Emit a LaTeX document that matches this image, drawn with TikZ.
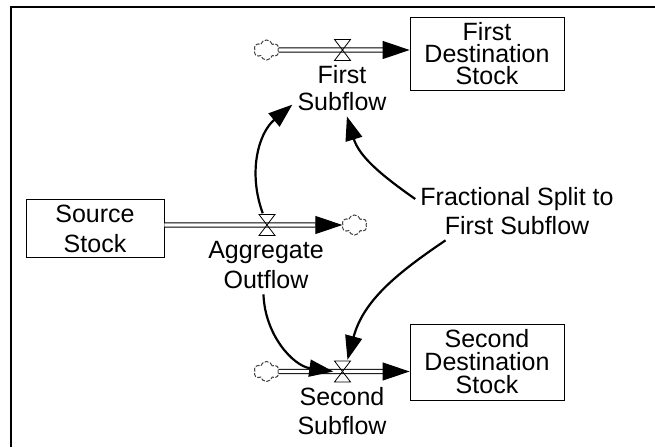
\documentclass[tikz,border=0pt]{standalone}
\usepackage{fontspec}
\setmainfont{Liberation Sans}
\usepackage{tikz}
\usetikzlibrary{positioning}
\usetikzlibrary{arrows.meta}
\usetikzlibrary{shapes.symbols}
\tikzset{
  stock/.style={draw,line width=0.8pt,minimum width=#1,inner sep=0pt,align=center},
  lbl/.style={font=\fontsize{25}{#1}\selectfont,align=center,inner sep=5pt},
  pipe/.style={double,double distance=3.2pt,line width=1pt,-{Triangle[length=27pt,width=18pt]}},
  infl/.style={line width=2.2pt,-{Triangle[length=24pt,width=17pt]}},
  sky/.style={cloud,cloud puffs=6,cloud puff arc=150,draw=black!75,dash pattern=on 4pt off 1.5pt,line width=1pt,aspect=1.25,
    minimum width=25pt,minimum height=20pt,inner sep=0pt},
  valve/.style={minimum width=18pt,minimum height=23pt,inner sep=0pt,path picture={
    \draw[line width=0.8pt] ([shift={(1pt,-1pt)}]path picture bounding box.north west)
      -- ([shift={(-1pt,1pt)}]path picture bounding box.south east)
      -- ([shift={(1pt,1pt)}]path picture bounding box.south west)
      -- ([shift={(-1pt,-1pt)}]path picture bounding box.north east) -- cycle;}}
}
\begin{document}
\begin{tikzpicture}[x=1pt,y=1pt]
    \useasboundingbox (0,0) rectangle (655,447);
    \coordinate (frameL) at (11,0);
    \coordinate (frameC) at (11,439.5);
    \coordinate (frameR) at (655,439.5);
    \draw [line width=2pt] (frameL) -- (frameC) -- (frameR);

    \node[stock=154pt,minimum height=73pt,font=\fontsize{25}{22}\selectfont] (firstStock) at (487,393.5) {First\\Destination\\Stock};
    \node[stock=154pt,minimum height=76pt,font=\fontsize{25}{23}\selectfont] (secondStock) at (487,85) {Second\\Destination\\Stock};
    \node[stock=138pt,minimum height=58pt,font=\fontsize{25}{30}\selectfont] (sourceStock) at (95,218.5) {Source\\Stock};

    \node[sky] (firstCloud) at (266.5,397) {};
    \node[sky] (outCloud) at (354.5,222) {};
    \node[sky] (secondCloud) at (266.5,75.5) {};

    \draw [pipe] (firstCloud.east) -- (firstCloud -| firstStock.west);
    \draw [pipe] (outCloud -| sourceStock.east) -- (outCloud.west);
    \draw [pipe] (secondCloud.east) -- (secondCloud -| secondStock.west);

    \node[valve] (firstValve) at (342.5,397) {};
    \node[valve] (outValve) at (267,222) {};
    \node[valve] (secondValve) at (342.5,75.5) {};

    \node[lbl=27] (firstFlow) at (342,358.5) {First\\Subflow};
    \node[lbl=30] (outFlow) at (266,181.5) {Aggregate\\Outflow};
    \node[lbl=29] (secondFlow) at (342,35.5) {Second\\Subflow};
    \node[lbl=29] (split) at (517,235.5) {Fractional Split to\\First Subflow};

    \path [infl] (outValve.110) edge [out=110,in=220] (firstFlow.198)
          (split.173) edge [out=145,in=287] (firstFlow.-80)
          (split.202) edge [out=214,in=75] (secondValve.67)
          (outFlow.-95) edge [out=-88,in=172] (secondValve.west);
\end{tikzpicture}
\end{document}
